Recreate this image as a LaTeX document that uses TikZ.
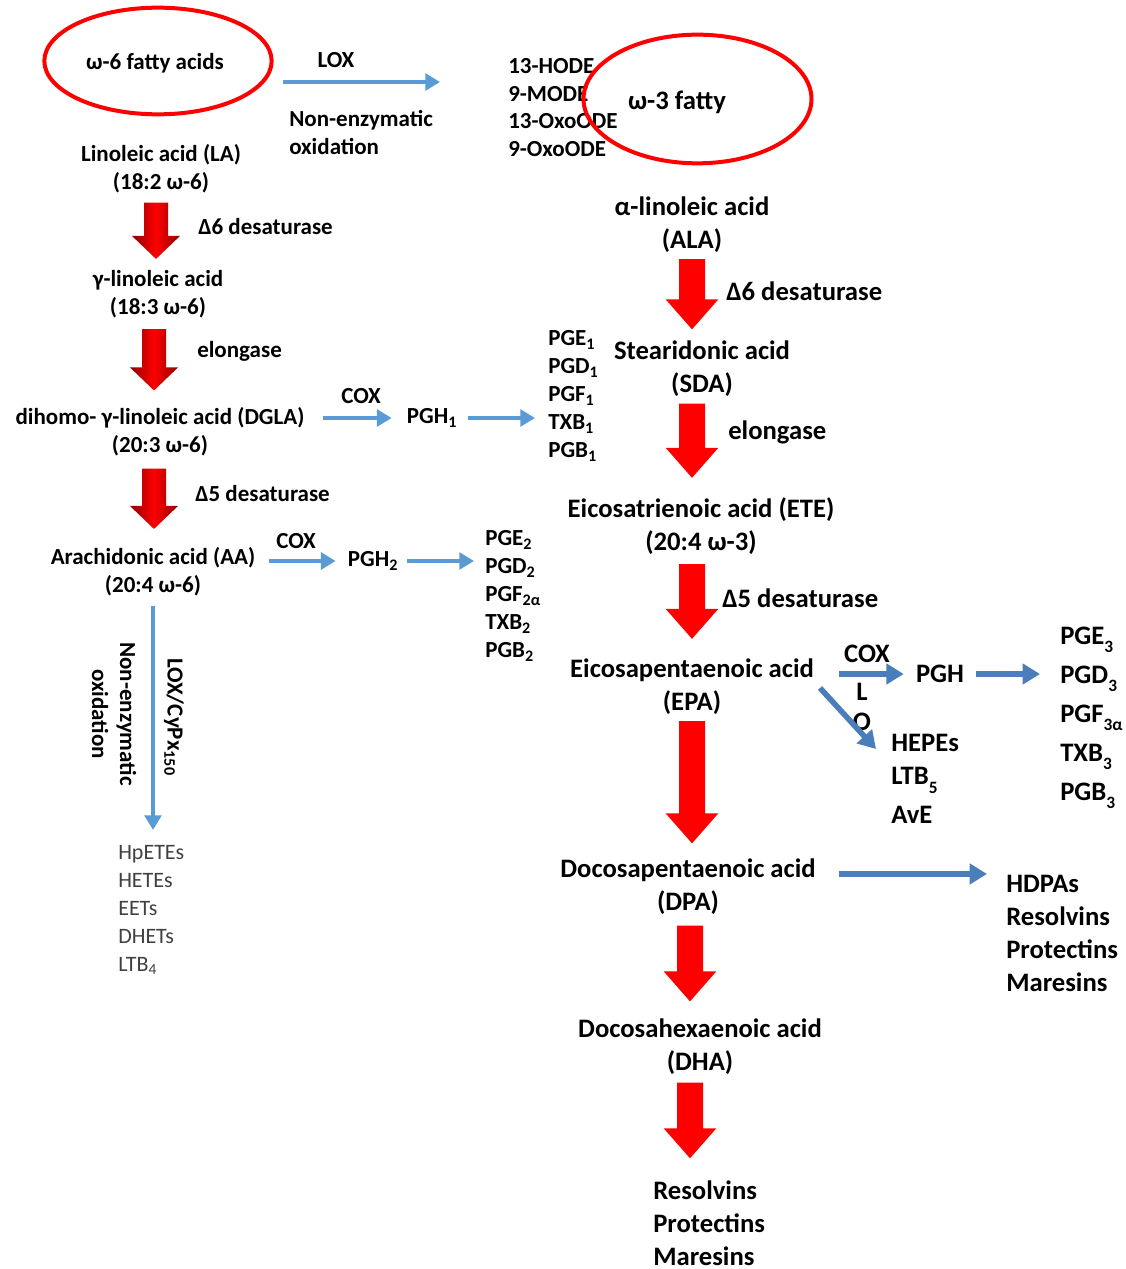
\documentclass[tikz,border=0pt]{standalone}
\usepackage{fontspec}
\setmainfont{Carlito}
\usetikzlibrary{arrows.meta,shapes.geometric,calc}
\definecolor{lblue}{HTML}{5B9BD5}
\definecolor{dblue}{HTML}{4A7EBB}
\definecolor{txtgray}{HTML}{404040}
\newcommand\sub[1]{\textsubscript{#1}}
\newcommand\lsub[1]{\raisebox{-0.65ex}{\fontsize{13}{13}\selectfont #1}}
% left 3D arrow: from, to, xshift(px), top gap(px), bottom gap(px)
\newcommand\fatL[5]{%
  \path[left color=red!55!black,right color=red!55!black,middle color=red]
  let \p1=($(#1.south)+(#3*0.75pt,0pt)$), \p2=(#2.north) in
  (\x1-9pt,\y1-#4*0.75pt) -- (\x1+9pt,\y1-#4*0.75pt)
  -- (\x1+9pt,\y2+#5*0.75pt+17.25pt) -- (\x1+18pt,\y2+#5*0.75pt+17.25pt)
  -- (\x1,\y2+#5*0.75pt) -- (\x1-18pt,\y2+#5*0.75pt+17.25pt)
  -- (\x1-9pt,\y2+#5*0.75pt+17.25pt) -- cycle;}
% right flat arrow
\newcommand\fatR[5]{%
  \path[fill=red]
  let \p1=($(#1.south)+(#3*0.75pt,0pt)$), \p2=(#2.north) in
  (\x1-9.75pt,\y1-#4*0.75pt) -- (\x1+9.75pt,\y1-#4*0.75pt)
  -- (\x1+9.75pt,\y2+#5*0.75pt+22.5pt) -- (\x1+19.75pt,\y2+#5*0.75pt+22.5pt)
  -- (\x1,\y2+#5*0.75pt) -- (\x1-19.75pt,\y2+#5*0.75pt+22.5pt)
  -- (\x1-9.75pt,\y2+#5*0.75pt+22.5pt) -- cycle;}
\begin{document}
\begin{tikzpicture}[x=0.75pt,y=-0.75pt,
  lt/.style={font=\fontsize{17.25}{21}\selectfont\bfseries,inner sep=0pt,align=center,yshift=-1.5pt},
  rt/.style={font=\fontsize{20}{24.75}\selectfont\bfseries,inner sep=0pt,align=center,yshift=-1.5pt},
  ll/.style={lt,align=left,anchor=west},
  rl/.style={rt,align=left,anchor=west},
  gl/.style={font=\fontsize{16.5}{21}\selectfont,text=txtgray,inner sep=0pt,align=left,anchor=west,yshift=-1.5pt},
  oval/.style={draw=red,line width=3pt,ellipse,inner sep=0pt},
  barrow/.style={draw=lblue,line width=3.5pt,-{Triangle[width=12.5pt,length=11pt]}},
  darrow/.style={draw=dblue,line width=4.2pt,-{Triangle[width=15pt,length=13pt]}}]
\fill[white] (0,0) rectangle (1126,1269);
\useasboundingbox (0,0) rectangle (1126,1269);

% ---- top
\node[oval,minimum width=170.5pt,minimum height=80pt] (w6oval) at (158,61) {};
\node[lt] (w6) at (155,61) {ω-6 fatty acids};
\node[lt] (loxa) at (336,58) {LOX};
\node[ll] (nea) at (289,131) {Non-enzymatic\\oxidation};
\node[ll,font=\fontsize{17.25}{20.75}\selectfont\bfseries] (hode) at (508,105.5) {13-HODE\\9-MODE\\13-OxoODE\\9-OxoODE};
\node[oval,minimum width=171pt,minimum height=96.5pt] (w3oval) at (697.5,99) {};
\node[rt] (w3) at (677,100) {ω-3 fatty};
\coordinate (loxs) at (283,82);
\coordinate (loxe) at (440,82);
\draw[barrow] (loxs) -- (loxe);

% ---- left column
\node[lt] (la) at (161,167) {Linoleic acid (LA)\\(18:2 ω-6)};
\node[ll] (d6a) at (198,225) {Δ6 desaturase};
\node[lt] (gla) at (158,292) {γ-linoleic acid\\(18:3 ω-6)};
\node[ll] (el1) at (197,349) {elongase};
\node[lt] (dgla) at (160,430) {dihomo- γ-linoleic acid (DGLA)\\(20:3 ω-6)};
\node[lt] (cox1) at (361,394) {COX};
\node[lt] (pgh1) at (432,416) {PGH\sub{1}};
\node[ll] (pg1) at (548,394) {PGE\sub1\\PGD\sub1\\PGF\sub1\\TXB\sub1\\PGB\sub1};
\node[ll] (d5a) at (195,492) {Δ5 desaturase};
\node[lt] (aa) at (153,569.5) {Arachidonic acid (AA)\\(20:4 ω-6)};
\node[lt] (cox2) at (296,539) {COX};
\node[lt] (pgh2) at (373,559) {PGH\sub2};
\node[ll] (pg2) at (485,594) {PGE\sub2\\PGD\sub2\\PGF\sub{2α}\\TXB\sub2\\PGB\sub2};
\node[lt,rotate=-90] (loxcy) at (174,715) {LOX/CyPx\sub{150}};
\node[lt,rotate=-90] (nea2) at (114,712) {Non-enzymatic\\oxidation};
\node[gl] (hpete) at (118,908) {HpETEs\\HETEs\\EETs\\DHETs\\LTB\sub4};

\fatL{la}{gla}{-5}{9}{11}
\fatL{gla}{dgla}{-4}{11}{17}
\fatL{dgla}{aa}{-6}{12}{18}

\draw[barrow,shorten <=13.5pt,shorten >=11.25pt] (pgh1.west -| dgla.east) -- (pgh1.west);
\draw[barrow,shorten <=8.25pt,shorten >=9.75pt] (pgh1.east) -- (pgh1.east -| pg1.west);
\draw[barrow,shorten <=9.75pt,shorten >=9pt] (pgh2.west -| aa.east) -- (pgh2.west);
\draw[barrow,shorten <=6.75pt,shorten >=8.25pt] (pgh2.east) -- (pgh2.east -| pg2.west);
\draw[barrow,shorten <=7.5pt,shorten >=11.25pt] (aa.south) -- (aa.south |- hpete.north);

% ---- right column
\node[rt] (ala) at (692,223) {α-linoleic acid\\(ALA)};
\node[rl] (d6b) at (726,289) {Δ6 desaturase};
\node[rt] (sda) at (702,366.5) {Stearidonic acid\\(SDA)};
\node[rl] (el2) at (728,430) {elongase};
\node[rt] (ete) at (701,524.5) {Eicosatrienoic acid (ETE)\\(20:4 ω-3)};
\node[rl] (d5b) at (722,596) {Δ5 desaturase};
\node[rt] (epa) at (692,685) {Eicosapentaenoic acid\\(EPA)};
\node[rt] (cox3) at (867,652) {COX};
\node[rt] (pgh3) at (940,672) {PGH};
\node[rl,font=\fontsize{20}{29.25}\selectfont\bfseries] (pg3) at (1060,716) {PGE\lsub3\\PGD\lsub3\\PGF\lsub{3α}\\TXB\lsub3\\PGB\lsub3};
\node[rt] (lL) at (862,690) {L};
\node[rt] (lO) at (862,720) {O};
\node[rl] (hepe) at (891,777) {HEPEs\\LTB\lsub5\\[4pt]AvE};
\node[rt] (dpa) at (688,884.5) {Docosapentaenoic acid\\(DPA)};
\node[rl] (hdpa) at (1006,931) {HDPAs\\Resolvins\\Protectins\\Maresins};
\node[rt] (dha) at (700,1044.5) {Docosahexaenoic acid\\(DHA)};
\node[rl] (res) at (653,1221) {Resolvins\\Protectins\\Maresins};

\fatR{ala}{sda}{0}{6}{11}
\fatR{sda}{ete}{-10}{7}{20}
\fatR{ete}{epa}{-9}{9}{20}
\fatR{epa}{dpa}{0}{6}{15}
\fatR{dpa}{dha}{2}{11}{17}
\fatR{dha}{res}{-10}{8}{22}

\draw[darrow,shorten <=18.75pt,shorten >=9pt] (pgh3.west -| epa.east) -- (pgh3.west);
\draw[darrow,shorten <=9pt,shorten >=15pt] (pgh3.east) -- (pgh3.east -| pg3.west);
\draw[darrow,shorten <=17.25pt,shorten >=14.25pt] ([yshift=9.4pt]dpa.east) -- ([yshift=9.4pt]dpa.east -| hdpa.west);
\coordinate (loA) at (820,688);
\coordinate (loB) at (876,749);
\draw[darrow] (loA) -- (loB);
\end{tikzpicture}
\end{document}
